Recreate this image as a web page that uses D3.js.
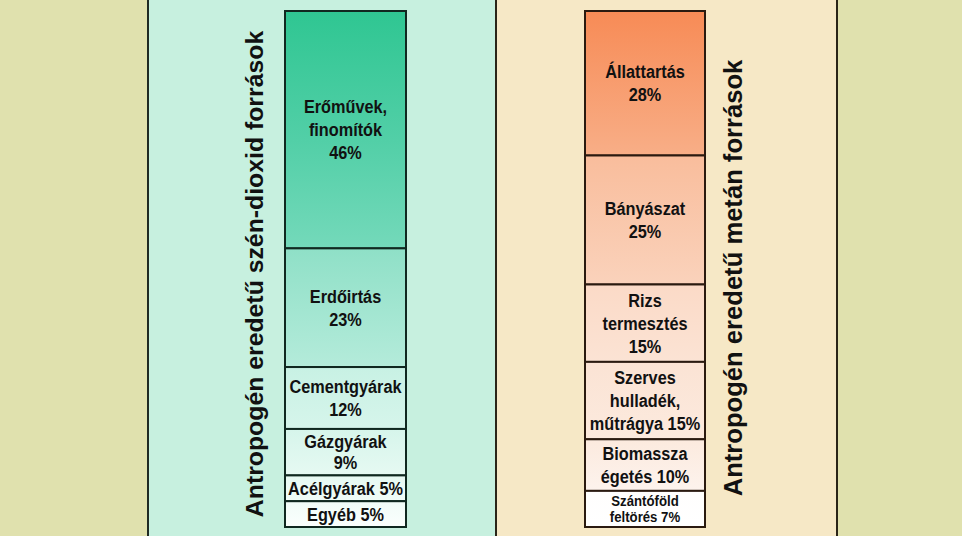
<!DOCTYPE html>
<html>
<head>
<meta charset="utf-8">
<script src="https://cdn.jsdelivr.net/npm/d3@7"></script>
<style>
  html, body { margin: 0; padding: 0; background: #e0e1ae; }
  #chart { width: 962px; height: 536px; }
</style>
</head>
<body>
<div id="chart"></div>
<script>
// CO2 sources (left column)
var co2Labels = [["Erőművek,", "finomítók", "46%"], ["Erdőirtás", "23%"], ["Cementgyárak", "12%"],
  ["Gázgyárak", "9%"], ["Acélgyárak 5%"], ["Egyéb 5%"]];
var co2Values = [46, 23, 12, 9, 5, 5];
var co2Title = "Antropogén eredetű szén-dioxid források";

// methane sources (right column)
var ch4Labels = [["Állattartás", "28%"], ["Bányászat", "25%"], ["Rizs", "termesztés", "15%"],
  ["Szerves", "hulladék,", "műtrágya 15%"], ["Biomassza", "égetés 10%"], ["Szántóföld", "feltörés 7%"]];
var ch4Values = [28, 25, 15, 15, 10, 7];
var ch4Title = "Antropogén eredetű metán források";

var width = 962, height = 536;
var svg = d3.select("#chart").append("svg")
  .attr("width", width).attr("height", height)
  .style("font-family", "'Liberation Sans', Arial, sans-serif");

var defs = svg.append("defs");

// background panels
svg.append("rect").attr("x", 0).attr("y", 0).attr("width", width).attr("height", height).attr("fill", "#e0e1ae");
svg.append("rect").attr("x", 148).attr("y", -2).attr("width", 348).attr("height", height + 4)
  .attr("fill", "#c7f0df").attr("stroke", "#1e2a24").attr("stroke-width", 2);
svg.append("rect").attr("x", 496).attr("y", -2).attr("width", 341).attr("height", height + 4)
  .attr("fill", "#f6e8c6").attr("stroke", "#2a2418").attr("stroke-width", 2);

var y = d3.scaleLinear().domain([0, 100]).range([11, 527]);

function gradient(id, stops) {
  var g = defs.append("linearGradient").attr("id", id)
    .attr("gradientUnits", "userSpaceOnUse")
    .attr("x1", 0).attr("x2", 0).attr("y1", y(0)).attr("y2", y(100));
  g.selectAll("stop").data(stops).enter().append("stop")
    .attr("offset", function (d) { return d[0]; })
    .attr("stop-color", function (d) { return d[1]; });
}

gradient("gCo2", [[0, "#2fc692"], [0.25, "#52cfa7"], [0.459, "#74d9ba"], [0.461, "#8fe0c7"],
  [0.689, "#b4ebda"], [0.691, "#c8f1e4"], [0.81, "#d6f5eb"], [0.9, "#e6f9f2"], [1, "#fbfffd"]]);
gradient("gCh4", [[0, "#f78b56"], [0.279, "#f8ae87"], [0.281, "#f9bd9c"], [0.529, "#fad2bb"],
  [0.531, "#fbdac7"], [0.68, "#fbe3d4"], [0.83, "#fceade"], [0.93, "#fdf3ed"], [0.931, "#fffefd"], [1, "#ffffff"]]);

function drawBar(x0, x1, values, labels, fillId, strokeColor) {
  var ends = d3.cumsum(values);
  var segs = values.map(function (v, i) {
    var top = y(ends[i] - v), bottom = y(ends[i]);
    var n = labels[i].length;
    // shrink the text when the lines do not fit the segment
    var lh = Math.min(23, (bottom - top - 4) / n);
    return { top: top, bottom: bottom, lines: labels[i], lh: lh, small: lh < 20 };
  });
  var g = svg.append("g");
  g.selectAll("rect").data(segs).enter().append("rect")
    .attr("x", x0).attr("width", x1 - x0)
    .attr("y", function (d) { return d.top; })
    .attr("height", function (d) { return d.bottom - d.top; })
    .attr("fill", "url(#" + fillId + ")")
    .attr("stroke", strokeColor).attr("stroke-width", 2);

  var cx = (x0 + x1) / 2;
  // labels use a condensed bold face (narrowed Liberation Sans)
  g.selectAll("text").data(segs).enter().append("text")
    .attr("transform", "translate(" + cx + ",0) scale(0.88,1)")
    .attr("text-anchor", "middle")
    .attr("font-weight", "bold")
    .attr("font-size", function (d) { return d.small ? 15 : 18.5; })
    .attr("fill", "#111")
    .each(function (d) {
      var cy = (d.top + d.bottom) / 2;
      var n = d.lines.length;
      d3.select(this).selectAll("tspan").data(d.lines).enter().append("tspan")
        .attr("x", 0)
        .attr("y", function (t, i) { return cy + (i - (n - 1) / 2) * d.lh; })
        .attr("dy", "0.36em")
        .text(function (t) { return t; });
    });
}

drawBar(285, 406, co2Values, co2Labels, "gCo2", "#102820");
drawBar(585, 705, ch4Values, ch4Labels, "gCh4", "#2a1a10");

// rotated titles
function title(text, x, cy, size) {
  svg.append("text")
    .attr("transform", "translate(" + x + "," + cy + ") rotate(-90)")
    .attr("text-anchor", "middle")
    .attr("font-weight", "bold")
    .attr("font-size", size)
    .attr("fill", "#111")
    .text(text);
}
title(co2Title, 263, 274, 24.8);
title(ch4Title, 742, 278, 25.6);
</script>
</body>
</html>
